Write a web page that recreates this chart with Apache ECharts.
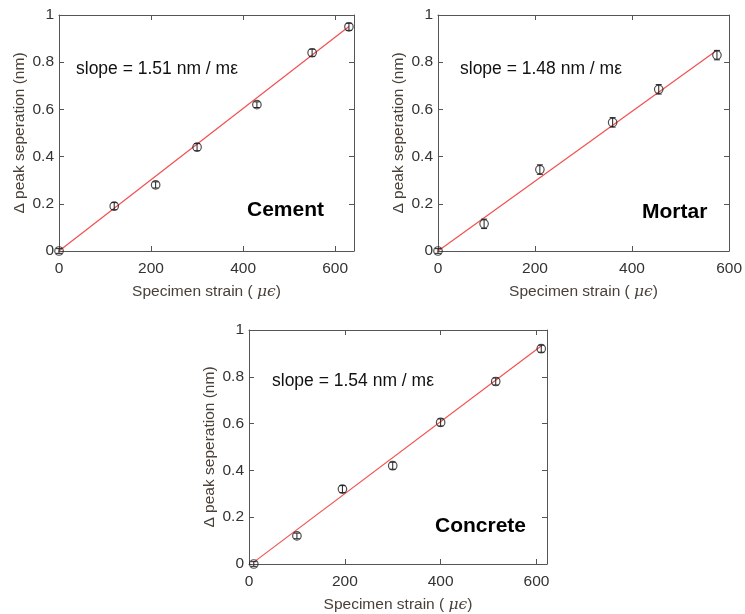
<!DOCTYPE html>
<html>
<head>
<meta charset="utf-8">
<script src="https://cdn.jsdelivr.net/npm/echarts@6/dist/echarts.min.js"></script>
<style>html,body{margin:0;padding:0;background:#fff}#c{width:745px;height:614px}</style>
</head>
<body>
<div id="c"></div>
<script>
// ---- data ----
const yTicks = [0, 0.2, 0.4, 0.6, 0.8, 1];
const xTicks = [0, 200, 400, 600];

const cementStrain = [0, 120, 210, 300, 430, 550, 630];
const cementShift  = [0, 0.19, 0.28, 0.44, 0.62, 0.84, 0.95];
const cementErr    = [0.01, 0.015, 0.013, 0.015, 0.012, 0.015, 0.015];
const cementFitX   = [0, 630];
const cementFitY   = [0, 0.951];

const mortarStrain = [0, 95, 210, 360, 455, 575];
const mortarShift  = [0, 0.115, 0.345, 0.545, 0.685, 0.83];
const mortarErr    = [0.01, 0.02, 0.02, 0.02, 0.02, 0.02];
const mortarFitX   = [0, 575];
const mortarFitY   = [0, 0.851];

const concreteStrain = [10, 100, 195, 300, 400, 515, 610];
const concreteShift  = [0, 0.12, 0.32, 0.42, 0.605, 0.78, 0.92];
const concreteErr    = [0.01, 0.012, 0.015, 0.015, 0.015, 0.015, 0.015];
const concreteFitX   = [10, 612];
const concreteFitY   = [0.008, 0.935];

const panelNames  = ['Cement', 'Mortar', 'Concrete'];
const slopeTexts  = ['slope = 1.51 nm / m\u03b5', 'slope = 1.48 nm / m\u03b5', 'slope = 1.54 nm / m\u03b5'];
const xMaxes      = [641, 600, 622];
const yLabel = '\u0394 peak seperation (nm)';

// ---- layout ----
const grids = [
  {left: 59, top: 15, width: 295, height: 236},
  {left: 438, top: 15, width: 296, height: 236},
  {left: 249, top: 330, width: 298, height: 236}
];
const panels = [
  {x: cementStrain, y: cementShift, e: cementErr, fx: cementFitX, fy: cementFitY},
  {x: mortarStrain, y: mortarShift, e: mortarErr, fx: mortarFitX, fy: mortarFitY},
  {x: concreteStrain, y: concreteShift, e: concreteErr, fx: concreteFitX, fy: concreteFitY}
];

const FONT = 'Liberation Sans, Arial, sans-serif';
const axisCol = '#555';
const labelCol = '#333';
const nameCol = '#4a4038';
const FS = 15.5;

const xAxes = [], yAxes = [], series = [], titles = [];
grids.forEach((g, i) => {
  xAxes.push({
    type: 'value', gridIndex: i, min: 0, max: xMaxes[i], interval: 200,
    name: 'Specimen strain ( {i|\u03bc\u03f5})', nameLocation: 'middle', nameGap: 33,
    nameTextStyle: {fontFamily: FONT, fontSize: FS, color: nameCol,
      rich: {i: {fontFamily: 'DejaVu Serif, serif', fontStyle: 'italic', fontSize: FS, color: nameCol}}},
    axisLine: {onZero: false, lineStyle: {color: axisCol, width: 1}},
    axisTick: {inside: true, length: 5, lineStyle: {color: axisCol}},
    axisLabel: {fontFamily: FONT, fontSize: FS, color: labelCol, margin: 10, showMaxLabel: i === 1},
    splitLine: {show: false}
  });
  xAxes.push({
    type: 'value', gridIndex: i, position: 'top', min: 0, max: xMaxes[i], interval: 200,
    axisLine: {onZero: false, lineStyle: {color: axisCol, width: 1}},
    axisTick: {inside: true, length: 5, lineStyle: {color: axisCol}},
    axisLabel: {show: false}, splitLine: {show: false}
  });
  yAxes.push({
    type: 'value', gridIndex: i, min: 0, max: 1, interval: 0.2,
    name: yLabel, nameLocation: 'middle', nameGap: 31,
    nameTextStyle: {fontFamily: FONT, fontSize: FS, color: nameCol},
    axisLine: {onZero: false, lineStyle: {color: axisCol, width: 1}},
    axisTick: {inside: true, length: 5, lineStyle: {color: axisCol}},
    axisLabel: {fontFamily: FONT, fontSize: FS, color: labelCol, margin: 5},
    splitLine: {show: false}
  });
  yAxes.push({
    type: 'value', gridIndex: i, position: 'right', min: 0, max: 1, interval: 0.2,
    axisLine: {onZero: false, lineStyle: {color: axisCol, width: 1}},
    axisTick: {inside: true, length: 5, lineStyle: {color: axisCol}},
    axisLabel: {show: false}, splitLine: {show: false}
  });

  const p = panels[i];
  const xi = 2 * i, yi = 2 * i;
  series.push({
    type: 'line', xAxisIndex: xi, yAxisIndex: yi, data: p.fx.map((v, k) => [v, p.fy[k]]),
    showSymbol: false, symbol: 'none', lineStyle: {color: '#f25050', width: 1.2}, z: 2, silent: true
  });
  series.push({
    type: 'custom', xAxisIndex: xi, yAxisIndex: yi,
    data: p.x.map((v, k) => [v, p.y[k] - p.e[k], p.y[k] + p.e[k]]),
    renderItem: function (params, api) {
      const lo = api.coord([api.value(0), api.value(1)]);
      const hi = api.coord([api.value(0), api.value(2)]);
      const w = 3;
      const st = {stroke: '#222', lineWidth: 1};
      return {type: 'group', children: [
        {type: 'line', shape: {x1: lo[0], y1: lo[1], x2: hi[0], y2: hi[1]}, style: st},
        {type: 'line', shape: {x1: lo[0] - w, y1: lo[1], x2: lo[0] + w, y2: lo[1]}, style: st},
        {type: 'line', shape: {x1: hi[0] - w, y1: hi[1], x2: hi[0] + w, y2: hi[1]}, style: st}
      ]};
    },
    z: 3, silent: true
  });
  series.push({
    type: 'scatter', xAxisIndex: xi, yAxisIndex: yi, data: p.x.map((v, k) => [v, p.y[k]]),
    symbol: 'circle', symbolSize: 8.5,
    itemStyle: {color: 'rgba(255,255,255,0)', borderColor: '#222', borderWidth: 1.2}, z: 4, silent: true
  });
});

const slopePos = [{left: 76, top: 60}, {left: 460, top: 60}, {left: 272, top: 372}];
const namePos  = [{left: 247, top: 200}, {left: 642, top: 202}, {left: 435, top: 516}];
slopePos.forEach((pos, i) => {
  titles.push({text: slopeTexts[i], left: pos.left, top: pos.top, padding: 0,
    textStyle: {fontFamily: FONT, fontSize: 17.5, fontWeight: 'normal', color: '#111'}});
  titles.push({text: panelNames[i], left: namePos[i].left, top: namePos[i].top, padding: 0,
    textStyle: {fontFamily: FONT, fontSize: 21, fontWeight: 'bold', color: '#000'}});
});

const chart = echarts.init(document.getElementById('c'), null, {renderer: 'canvas'});
chart.setOption({
  animation: false,
  backgroundColor: '#fff',
  title: titles,
  grid: grids,
  xAxis: xAxes,
  yAxis: yAxes,
  series: series
});
</script>
</body>
</html>
